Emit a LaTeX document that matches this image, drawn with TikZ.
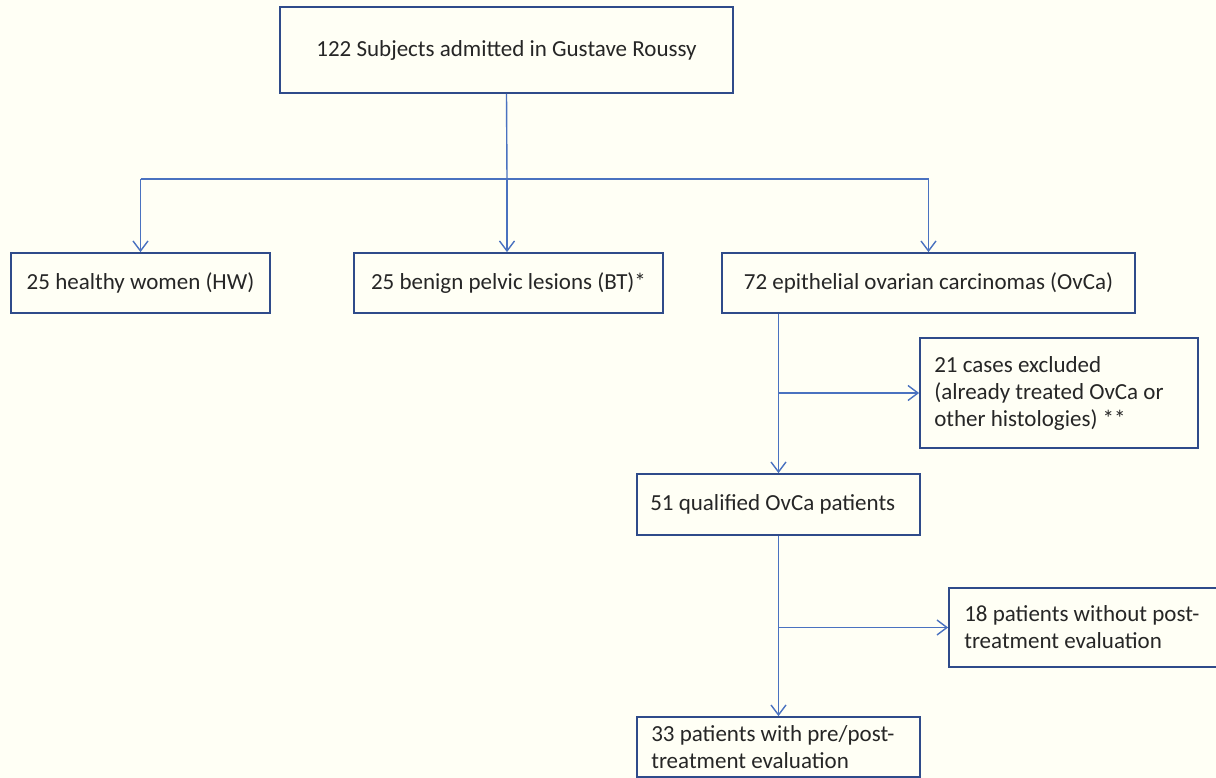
\documentclass[tikz,border=0pt]{standalone}
\usepackage{fontspec}
\setmainfont{Carlito}
\usetikzlibrary{arrows.meta,calc}
\definecolor{bgc}{HTML}{FFFFF5}
\definecolor{boxc}{HTML}{2F4B8A}
\definecolor{linec}{HTML}{4A72C0}
\definecolor{txtc}{HTML}{262626}
\tikzset{
  flowbox/.style={draw=boxc, line width=1.8pt, fill=bgc, text=txtc, inner sep=0pt,
    font=\fontsize{23}{27}\selectfont, anchor=center},
  boxtext/.style={text=txtc, inner sep=0pt, align=left, anchor=west,
    font=\fontsize{23}{27}\selectfont},
  conn/.style={draw=linec, line width=1.4pt},
  arr/.style={conn, -{Straight Barb[length=10pt,width=15pt,line width=1.4pt]}}
}
\begin{document}
\begin{tikzpicture}[x=1pt,y=-1pt]
\fill[bgc] (0,0) rectangle (1216,778);
\useasboundingbox (0,0) rectangle (1216,778);
\clip (0,0) rectangle (1216,778);

\node[flowbox, minimum width=453pt, minimum height=86pt] (top) at (506.5,50) {122 Subjects admitted in Gustave Roussy};
\node[flowbox, minimum width=259pt, minimum height=60pt] (hw) at (140.5,283) {25 healthy women (HW)};
\node[flowbox, minimum width=309pt, minimum height=60pt] (bt) at (508.5,283) {25 benign pelvic lesions (BT)*};
\node[flowbox, minimum width=413pt, minimum height=60pt] (oc) at (928.5,283) {72 epithelial ovarian carcinomas (OvCa)};
\node[flowbox, minimum width=278pt, minimum height=110pt] (ex) at (1059,393) {};
\node[flowbox, minimum width=283pt, minimum height=61pt] (q) at (778.5,504.5) {};
\node[flowbox, minimum width=283pt, minimum height=79pt] (wo) at (1090.5,627.5) {};
\node[flowbox, minimum width=283pt, minimum height=60pt] (pp) at (778.5,747) {};

\node[boxtext] (ext) at ($(ex.west)+(15,0)$) {21 cases excluded\\(already treated OvCa or\\other histologies) **};
\node[boxtext] (qt) at ($(q.west)+(14,0)$) {51 qualified OvCa patients};
\node[boxtext] (wot) at ($(wo.west)+(16,0)$) {18 patients without post-\\treatment evaluation};
\node[boxtext] (ppt) at ($(pp.west)+(15,0)$) {33 patients with pre/post-\\treatment evaluation};

\coordinate (bus) at (507,179);
\draw[conn] (top.south) -- (bus);
\draw[conn] (hw.north |- bus) -- (oc.north |- bus);
\draw[arr] (hw.north |- bus) -- (hw.north);
\draw[arr] (bus) -- (bus |- bt.north);
\draw[arr] (oc.north |- bus) -- (oc.north);

\draw[arr] (q.north |- oc.south) -- (q.north);
\coordinate (b1) at (q.north |- ex.west);
\draw[arr] (b1) -- (ex.west);

\draw[arr] (q.south) -- (pp.north);
\coordinate (b2) at (q.south |- wo.west);
\draw[arr] (b2) -- (wo.west);
\end{tikzpicture}
\end{document}
